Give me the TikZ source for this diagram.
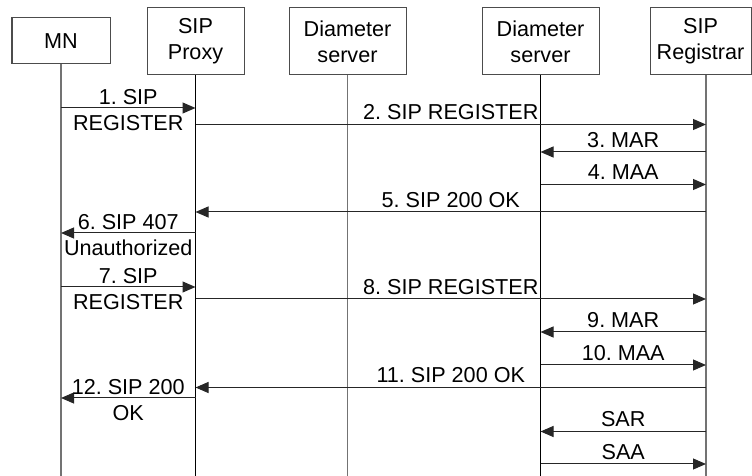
\documentclass[tikz,border=0pt]{standalone}
\usepackage{fontspec}
\setmainfont{Liberation Sans}
\usetikzlibrary{arrows.meta}

\begin{document}
\begin{tikzpicture}[
  x=0.5pt, y=-0.5pt,
  font=\fontsize{10.8}{13}\selectfont\frenchspacing,
  actor/.style = {rectangle, draw=black!70, line width=0.5pt,
                  minimum height=33.5pt, align=center, inner sep=0pt},
  life/.style  = {draw=black!55, line width=0.6pt},
  msg/.style   = {-{Triangle[length=6.5pt, width=5.5pt]}, line width=0.5pt, draw=black!85},
  lbl/.style   = {midway, above=1pt, inner sep=1pt},
  lbl2/.style  = {midway, align=center, inner sep=0pt, yshift=-1pt}
]
  \useasboundingbox (0,0) rectangle (752,476);

  \node[actor, minimum width=49pt, minimum height=23pt] (mn) at (61,41) {MN};
  \node[actor, minimum width=48.5pt] (proxy) at (195.5,41.5) {SIP\\Proxy};
  \node[actor, minimum width=58.5pt] (dia1)  at (347.5,41.5) {Diameter\\server};
  \node[actor, minimum width=58.5pt] (dia2)  at (540.5,41.5) {Diameter\\server};
  \node[actor, minimum width=50.5pt] (reg)   at (700.5,41.5) {SIP\\Registrar};
  \coordinate (regl) at (706,75);

  % lifelines
  \draw[life] (mn.south) -- (mn.south |- 0,476);
  \draw[life, draw=black] (proxy.south) -- (proxy.south |- 0,476);
  \draw[life] (dia1.south) -- (dia1.south |- 0,476);
  \draw[life, draw=black] (dia2.south) -- (dia2.south |- 0,476);
  \draw[life] (regl) -- (regl |- 0,476);

  % messages
  \draw[msg] (mn |- 0,108)      -- (proxy |- 0,108)   node[lbl2] {1. SIP\\REGISTER};
  \draw[msg] (proxy |- 0,124.5) -- (regl |- 0,124.5)  node[lbl]  {2. SIP REGISTER};
  \draw[msg] (regl |- 0,152)    -- (dia2 |- 0,152)    node[lbl]  {3. MAR};
  \draw[msg] (dia2 |- 0,184.5)  -- (regl |- 0,184.5)  node[lbl]  {4. MAA};
  \draw[msg] (regl |- 0,212)    -- (proxy |- 0,212)   node[lbl]  {5. SIP 200 OK};
  \draw[msg] (proxy |- 0,233)   -- (mn |- 0,233)      node[lbl2] {6. SIP 407\\Unauthorized};
  \draw[msg] (mn |- 0,287)      -- (proxy |- 0,287)   node[lbl2] {7. SIP\\REGISTER};
  \draw[msg] (proxy |- 0,299)   -- (regl |- 0,299)    node[lbl]  {8. SIP REGISTER};
  \draw[msg] (regl |- 0,332)    -- (dia2 |- 0,332)    node[lbl]  {9. MAR};
  \draw[msg] (dia2 |- 0,365)    -- (regl |- 0,365)    node[lbl]  {10. MAA};
  \draw[msg] (regl |- 0,387.5)  -- (proxy |- 0,387.5) node[lbl]  {11. SIP 200 OK};
  \draw[msg] (proxy |- 0,398)   -- (mn |- 0,398)      node[lbl2] {12. SIP 200\\OK};
  \draw[msg] (regl |- 0,431.5)  -- (dia2 |- 0,431.5)  node[lbl]  {SAR};
  \draw[msg] (dia2 |- 0,464)    -- (regl |- 0,464)    node[lbl]  {SAA};
\end{tikzpicture}
\end{document}
